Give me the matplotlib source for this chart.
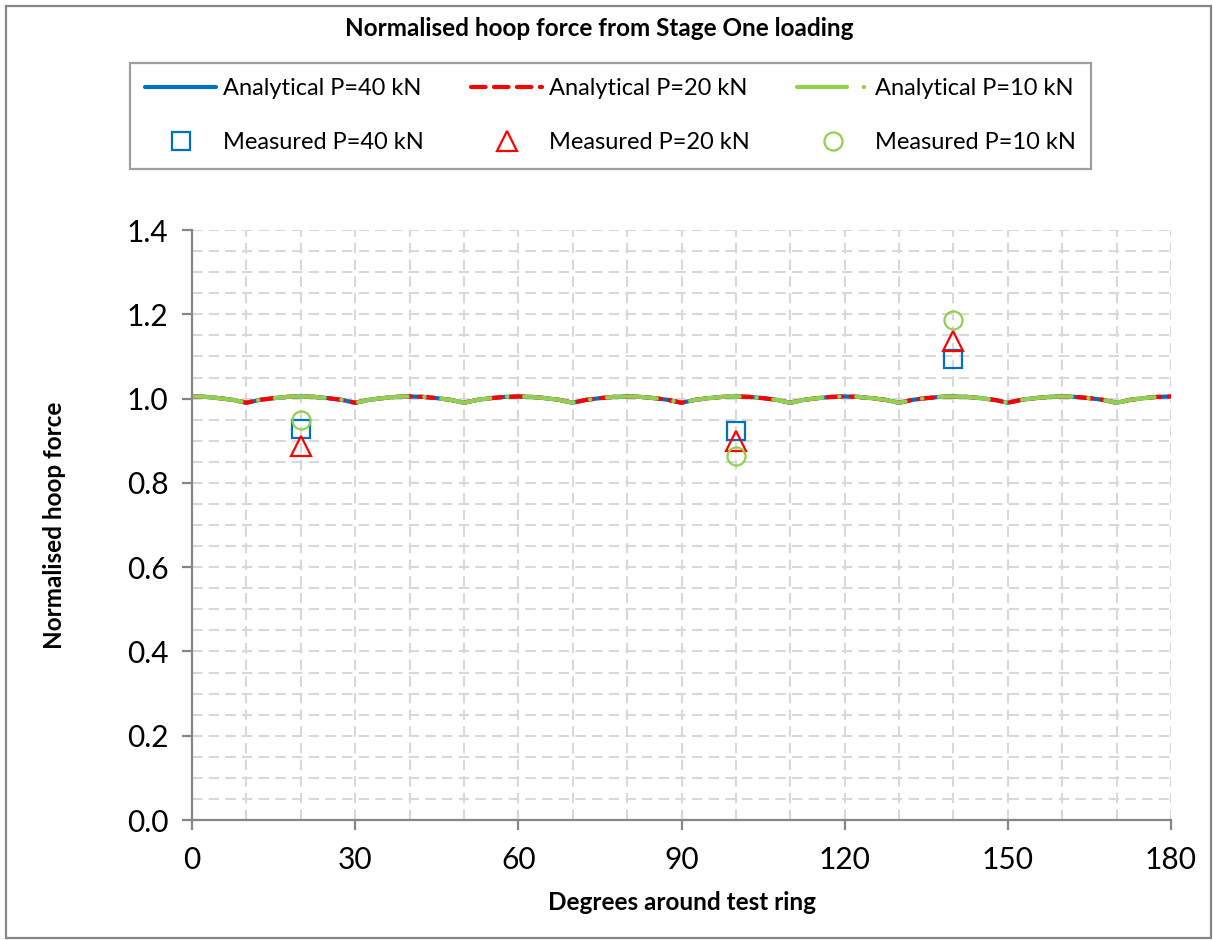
import matplotlib.pyplot as plt
from matplotlib.ticker import MultipleLocator
from matplotlib.patches import Rectangle

plt.rcParams['font.family'] = ['Lato', 'DejaVu Sans']

# angle around the ring (deg), 2.5 deg steps
degrees = [i * 2.5 for i in range(73)]

# analytical normalised hoop force (same for all three load levels once normalised)
analytical = [
    1.005, 1.004, 1.001, 0.997, 0.990, 0.997, 1.001, 1.004,
    1.005, 1.004, 1.001, 0.997, 0.990, 0.997, 1.001, 1.004,
    1.005, 1.004, 1.001, 0.997, 0.990, 0.997, 1.001, 1.004,
    1.005, 1.004, 1.001, 0.997, 0.990, 0.997, 1.001, 1.004,
    1.005, 1.004, 1.001, 0.997, 0.990, 0.997, 1.001, 1.004,
    1.005, 1.004, 1.001, 0.997, 0.990, 0.997, 1.001, 1.004,
    1.005, 1.004, 1.001, 0.997, 0.990, 0.997, 1.001, 1.004,
    1.005, 1.004, 1.001, 0.997, 0.990, 0.997, 1.001, 1.004,
    1.005, 1.004, 1.001, 0.997, 0.990, 0.997, 1.001, 1.004,
    1.005,
]

# strain gauge positions and measured values
gauge_deg = [20, 100, 140]
measured_40 = [0.928, 0.924, 1.093]
measured_20 = [0.887, 0.900, 1.137]
measured_10 = [0.949, 0.864, 1.187]

blue = '#0070C0'
red = '#FF0000'
green = '#92D050'
grey = '#868686'

fig = plt.figure(figsize=(12.13, 9.4), dpi=100)
ax = fig.add_axes([192 / 1213, 1 - 820 / 940, (1171 - 192) / 1213, (820 - 230) / 940])

l40, = ax.plot(degrees, analytical, color=blue, lw=3, solid_capstyle='round',
               label='Analytical P=40 kN')
l20, = ax.plot(degrees, analytical, color=red, lw=3, dashes=(3.5, 2),
               dash_capstyle='round', label='Analytical P=20 kN')
l10, = ax.plot(degrees, analytical, color=green, lw=3, dashes=(12, 4, 0.1, 4),
               dash_capstyle='round', label='Analytical P=10 kN')

m40, = ax.plot(gauge_deg, measured_40, ls='none', marker='s', ms=13, mfc='none',
               mec=blue, mew=1.6, label='Measured P=40 kN')
m20, = ax.plot(gauge_deg, measured_20, ls='none', marker='^', ms=14, mfc='none',
               mec=red, mew=1.6, label='Measured P=20 kN')
m10, = ax.plot(gauge_deg, measured_10, ls='none', marker='o', ms=13, mfc='none',
               mec=green, mew=1.6, label='Measured P=10 kN')

ax.set_xlim(0, 180)
ax.set_ylim(0, 1.4)
ax.xaxis.set_major_locator(MultipleLocator(30))
ax.xaxis.set_minor_locator(MultipleLocator(10))
ax.yaxis.set_major_locator(MultipleLocator(0.2))
ax.yaxis.set_minor_locator(MultipleLocator(0.05))
ax.yaxis.set_major_formatter(plt.FormatStrFormatter('%.1f'))

ax.grid(which='both', color='#D9D9D9', ls=(0, (5, 3)), lw=1.5)
ax.set_axisbelow(True)
for side in ['top', 'right']:
    ax.spines[side].set_visible(False)
for side in ['left', 'bottom']:
    ax.spines[side].set_color(grey)
    ax.spines[side].set_linewidth(1.6)
ax.tick_params(which='major', direction='out', length=7, width=1.6, color=grey,
               labelsize=21.5, pad=10)
ax.tick_params(axis='x', pad=12)
ax.tick_params(which='minor', length=0)

ax.set_xlabel('Degrees around test ring', fontsize=17.5, fontweight='bold', labelpad=12)
ax.set_ylabel('Normalised hoop force', fontsize=17.5, fontweight='bold', labelpad=44)

fig.text(0.494, 1 - 28 / 940, 'Normalised hoop force from Stage One loading',
         ha='center', va='center', fontsize=17.5, fontweight='bold')

leg = fig.legend(handles=[l40, m40, l20, m20, l10, m10], ncol=3,
                 loc='upper left', bbox_to_anchor=(130 / 1213, 1 - 63 / 940),
                 fontsize=17, frameon=True, fancybox=False, handlelength=3.0,
                 handletextpad=0.3, columnspacing=2.0, labelspacing=1.4,
                 borderpad=0.65, borderaxespad=0)
leg.get_frame().set_edgecolor(grey)
leg.get_frame().set_linewidth(1.6)

# chart area border
fig.patches.append(Rectangle((6 / 1213, 2 / 940), 1205 / 1213, 932 / 940,
                             transform=fig.transFigure, fill=False,
                             edgecolor=grey, lw=1.6))

fig.savefig('out.png', dpi=100)
